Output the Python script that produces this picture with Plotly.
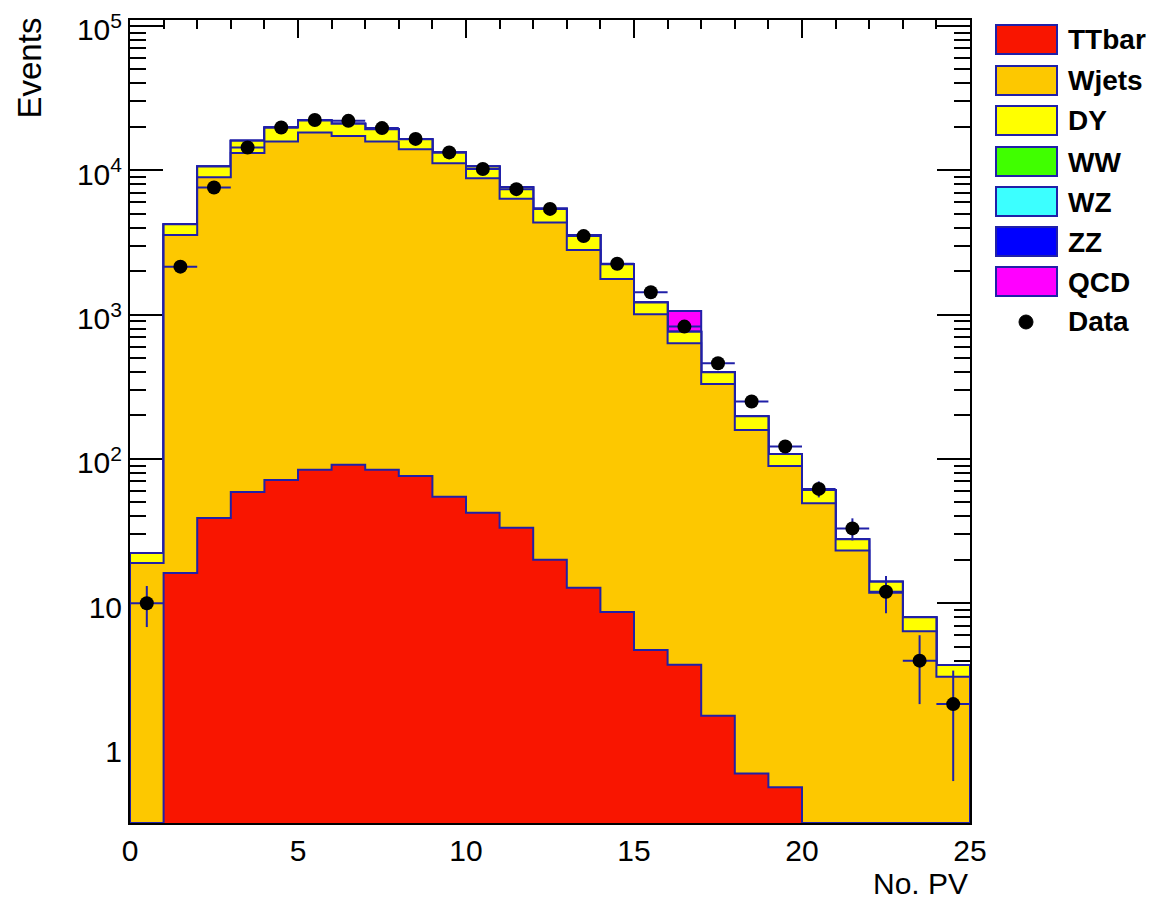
import numpy as np
import plotly.graph_objects as go

# ---------------- data ----------------
bin_low = list(range(0, 25))          # No. PV bins [i, i+1)
bin_width = 1.0

ttbar = [0, 16.2, 39, 59, 71.5, 84, 91, 84, 76, 54.6, 42.3, 33.3, 20, 12.8, 8.7,
         4.74, 3.74, 1.66, 0.66, 0.53, 0, 0, 0, 0, 0]
wjets = [19.0, 3549, 8911, 13091, 15748, 18166, 17209, 15736, 13924, 11145, 8768,
         6307, 4330, 2792, 1757, 1002, 630, 329, 158, 88.8, 49.3, 23.2, 11.8, 6.4, 3.1]
dy = [3.3, 665, 1660, 2850, 3960, 3840, 3690, 3460, 2440, 2080, 1800, 1300, 1060,
      760, 468, 204, 128, 68, 39, 18.7, 11.7, 4.6, 2.3, 1.6, 0.63]
ww = [0] * 25
wz = [0] * 25
zz = [0] * 25
qcd = [0, 0, 0, 0, 0, 0, 0, 0, 0, 0, 0, 0, 0, 0, 0, 0, 299, 0, 0, 0, 0, 0, 0, 0, 0]
data = [10, 2150, 7600, 14400, 19800, 22300, 22000, 19600, 16500, 13300, 10200,
        7400, 5400, 3500, 2250, 1430, 826, 460, 250, 122, 62, 33, 12, 4, 2]

names = ["TTbar", "Wjets", "DY", "WW", "WZ", "ZZ", "QCD"]
colors = ["#f91500", "#fdc800", "#ffff00", "#40ff00", "#3cffff", "#0000ff", "#ff00ff"]
series = [ttbar, wjets, dy, ww, wz, zz, qcd]

y_min, y_max = 0.3, 1.1e5
x_min, x_max = 0, 25
edge_col = "#2020a8"
font_fam = "Liberation Sans, Arial, Helvetica, sans-serif"

# ---------------- figure ----------------
fig = go.Figure()

cum = np.cumsum(np.array(series, dtype=float), axis=0)


def step_polygon(vals):
    xs, ys = [bin_low[0]], [y_min * 0.01]
    for lo, v in zip(bin_low, vals):
        v = max(v, y_min)
        xs += [lo, lo + bin_width]
        ys += [v, v]
    xs.append(bin_low[-1] + bin_width)
    ys.append(y_min * 0.01)
    return xs, ys


# draw cumulative histograms from the top of the stack down (ROOT THStack style)
for k in range(len(series) - 1, -1, -1):
    xs, ys = step_polygon(cum[k])
    fig.add_trace(go.Scatter(
        x=xs, y=ys, mode="lines", fill="toself", fillcolor=colors[k],
        line=dict(color=edge_col, width=2), name=names[k], showlegend=False,
        hoverinfo="skip"))

# data points
centers = [lo + bin_width / 2 for lo in bin_low]
fig.add_trace(go.Scatter(
    x=centers, y=data, mode="markers", name="Data", showlegend=False,
    marker=dict(color="black", size=14),
    error_y=dict(type="data", array=list(np.sqrt(data)), color=edge_col,
                 thickness=2, width=0),
    error_x=dict(type="data", array=[bin_width / 2] * 25, color=edge_col,
                 thickness=2, width=0)))

# ---------------- axes ----------------
y_major = [1, 10, 100, 1000, 1e4, 1e5]
y_major_txt = ["1", "10", "10<sup>2</sup>", "10<sup>3</sup>", "10<sup>4</sup>", "10<sup>5</sup>"]
y_minor = [m * 10 ** e for e in range(-1, 5) for m in range(2, 10)
           if y_min < m * 10 ** e < y_max and not (e == -1 and m < 4)]

fig.update_xaxes(
    range=[x_min, x_max], tickmode="array", tickvals=[0, 5, 10, 15, 20, 25],
    ticks="inside", ticklen=18, tickwidth=1.5, tickcolor="black",
    minor=dict(ticks="inside", ticklen=9, tickwidth=1.5, tickcolor="black",
               tickmode="linear", tick0=0, dtick=1),
    showline=True, linecolor="black", linewidth=2, mirror="allticks",
    showgrid=False, zeroline=False, layer="below traces",
    ticklabeloverflow="allow", automargin=False,
    tickfont=dict(family=font_fam, size=30, color="black"))

fig.update_yaxes(
    type="log", range=[np.log10(y_min), np.log10(y_max)],
    tickmode="array", tickvals=y_major, ticktext=y_major_txt,
    ticks="inside", ticklen=33, tickwidth=1.5, tickcolor="black",
    minor=dict(ticks="inside", ticklen=16, tickwidth=1.5, tickcolor="black",
               tickmode="array", tickvals=y_minor),
    showline=True, linecolor="black", linewidth=2, mirror="allticks",
    showgrid=False, zeroline=False, layer="below traces",
    ticklabeloverflow="allow", automargin=False, ticklabelshift=4,
    tickfont=dict(family=font_fam, size=30, color="black"))

# ---------------- layout geometry (page body adds an 8px offset) ----------------
OFF = 8
FW, FH = 1154 - OFF, 911 - OFF
PW, PH = 840, 803
L, T = 130 - OFF, 20 - OFF


def px(x):
    return (x - OFF - L) / PW


def py(y):
    return (T + PH - (y - OFF)) / PH


annotations = [
    dict(text="Events", xref="paper", yref="paper", x=px(29), y=py(16),
         xanchor="center", yanchor="top", textangle=-90, showarrow=False,
         font=dict(family=font_fam, size=33, color="black")),
    dict(text="No. PV", xref="paper", yref="paper", x=1.0, y=py(883),
         xanchor="right", yanchor="middle", showarrow=False,
         font=dict(family=font_fam, size=30, color="black")),
]

# ---------------- legend (ROOT style, drawn outside the frame) ----------------
shapes = []
row_top = [25, 66, 106, 147, 187, 227, 267]
for name, col, top in zip(names, colors, row_top):
    shapes.append(dict(type="rect", xref="paper", yref="paper",
                       x0=px(996), x1=px(1057), y0=py(top + 29), y1=py(top),
                       fillcolor=col, line=dict(color=edge_col, width=2)))
    annotations.append(dict(text=name, xref="paper", yref="paper",
                            x=px(1066), y=py(top + 15), xanchor="left",
                            yanchor="middle", showarrow=False,
                            font=dict(family=font_fam, size=28, color="black",
                                      weight="bold")))
shapes.append(dict(type="circle", xref="paper", yref="paper",
                   x0=px(1019), x1=px(1033), y0=py(329), y1=py(315),
                   fillcolor="black", line=dict(color="black", width=1)))
annotations.append(dict(text="Data", xref="paper", yref="paper",
                        x=px(1066), y=py(322), xanchor="left", yanchor="middle",
                        showarrow=False,
                        font=dict(family=font_fam, size=28, color="black",
                                  weight="bold")))

fig.update_layout(
    width=FW, height=FH, autosize=False,
    margin=dict(l=L, r=FW - L - PW, t=T, b=FH - T - PH, autoexpand=False),
    paper_bgcolor="white", plot_bgcolor="white",
    showlegend=False, annotations=annotations, shapes=shapes,
    font=dict(family=font_fam, color="black"))

fig.write_html("out.html")
